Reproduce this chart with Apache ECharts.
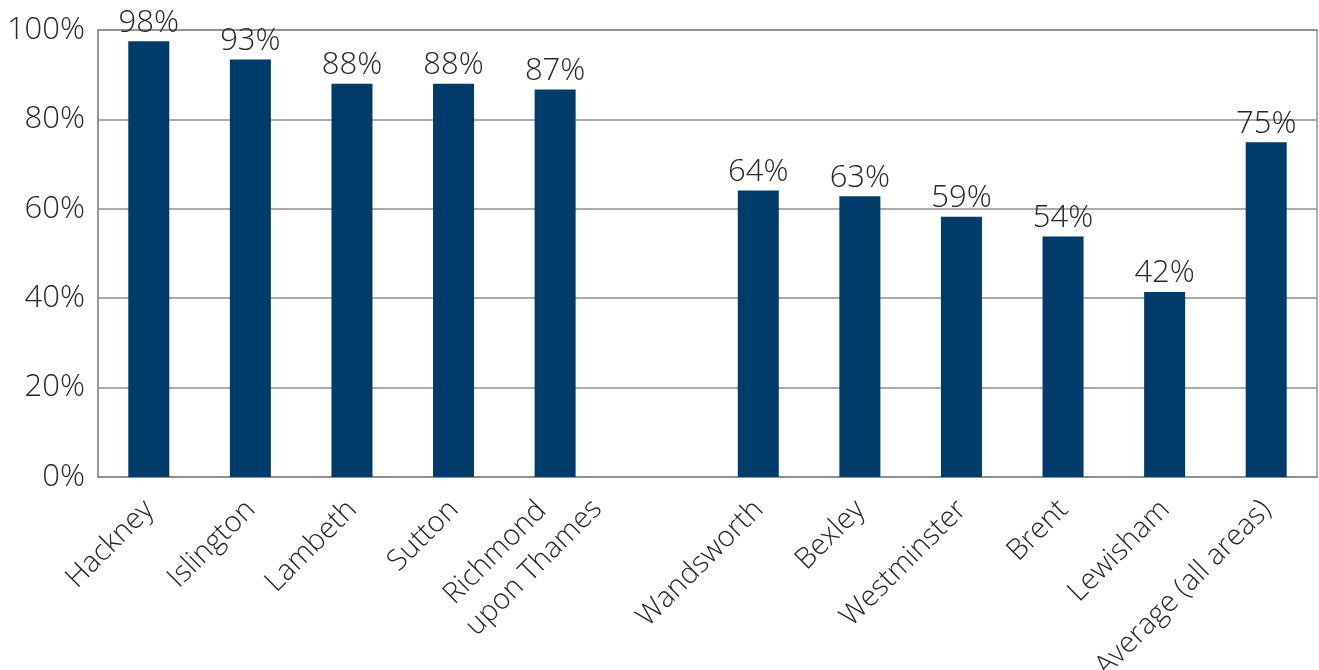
<!DOCTYPE html>
<html>
<head>
<meta charset="utf-8">
<script src="https://cdn.jsdelivr.net/npm/echarts@6/dist/echarts.min.js"></script>
<style>
html,body{margin:0;padding:0;background:#fff;}
#chart{width:1319px;height:670px;}
</style>
</head>
<body>
<div id="chart"></div>
<script>
var categories = ['Hackney','Islington','Lambeth','Sutton','Richmond\nupon Thames','','Wandsworth','Bexley','Westminster','Brent','Lewisham','Average (all areas)'];
var values = [97.5, 93.4, 88.0, 88.0, 86.7, null, 64.1, 62.8, 58.2, 53.8, 41.4, 74.9];
var labels = ['98%','93%','88%','88%','87%','','64%','63%','59%','54%','42%','75%'];
var yTicks = [0, 20, 40, 60, 80, 100];

var font = 'Open Sans';
var weight = 350;
var fsize = 29;
var numSize = 31;
var textColor = '#2a2526';

// measure the widest line of the two-line label, for centring its lines
var cv = document.createElement('canvas').getContext('2d');
cv.font = weight + ' ' + fsize + 'px "' + font + '"';
var twoLineWidth = 0;
categories.forEach(function (c) {
  if (c.indexOf('\n') >= 0) {
    c.split('\n').forEach(function (s) { twoLineWidth = Math.max(twoLineWidth, cv.measureText(s).width); });
  }
});
var prb = Math.max(0, twoLineWidth - 32);

var xData = categories.map(function (c) {
  if (c.indexOf('\n') >= 0) {
    return {value: c, textStyle: {align: 'center', verticalAlign: 'middle'}};
  }
  return c;
});

var chart = echarts.init(document.getElementById('chart'));
chart.setOption({
  animation: false,
  grid: {left: 98, right: 2, top: 30, bottom: 193, show: true, borderColor: '#8f8f8f', borderWidth: 1.5,
    containLabel: false, outerBoundsMode: 'none'},
  xAxis: {
    type: 'category',
    data: xData,
    axisLine: {show: true, lineStyle: {color: '#8f8f8f', width: 1.5}},
    axisTick: {show: false},
    axisLabel: {
      interval: 0, rotate: 45, fontFamily: font, fontWeight: weight, fontSize: fsize, color: textColor,
      margin: 8, align: 'right', verticalAlign: 'top', hideOverlap: false,
      formatter: function (v) {
        if (!v) { return ''; }
        if (v.indexOf('\n') >= 0) {
          var p = v.split('\n');
          return '{r1|' + p[0] + '}\n{r2|' + p[1] + '}';
        }
        return '{s|' + v + '}';
      },
      rich: {
        s: {padding: [0, 14, 0, 0], fontFamily: font, fontWeight: weight, fontSize: fsize, color: textColor},
        r1: {align: 'center', lineHeight: 38, padding: [49, prb + 34, 0, 0], fontFamily: font, fontWeight: weight, fontSize: fsize, color: textColor},
        r2: {align: 'center', lineHeight: 38, padding: [49, prb, 0, 0], fontFamily: font, fontWeight: weight, fontSize: fsize, color: textColor}
      }
    }
  },
  yAxis: {
    type: 'value',
    min: yTicks[0],
    max: yTicks[yTicks.length - 1],
    interval: 20,
    axisLine: {show: true, lineStyle: {color: '#8f8f8f', width: 1.5}},
    axisTick: {show: false},
    splitLine: {lineStyle: {color: '#8f8f8f', width: 1.5}},
    axisLabel: {fontFamily: font, fontWeight: weight, fontSize: numSize, color: textColor, margin: 13, padding: [0, 0, 10, 0],
      formatter: function (v) { return v + '%'; }}
  },
  series: [{
    type: 'bar',
    data: values,
    barWidth: 41,
    itemStyle: {color: '#003c69'},
    label: {
      show: true,
      position: 'top',
      distance: 3,
      fontFamily: font,
      fontWeight: weight,
      fontSize: numSize,
      color: textColor,
      formatter: function (p) { return labels[p.dataIndex]; }
    }
  }]
});
</script>
</body>
</html>
